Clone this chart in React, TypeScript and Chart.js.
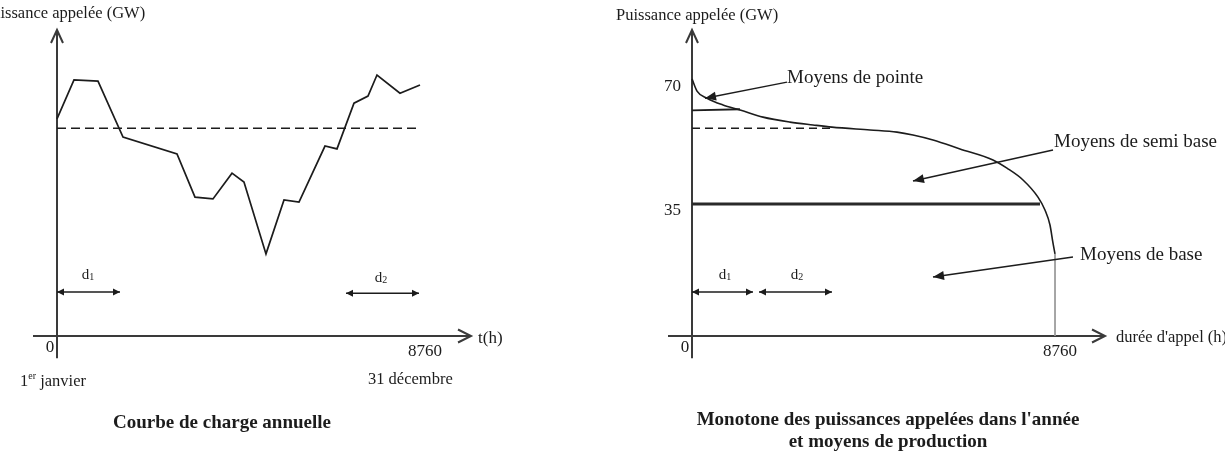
import React, { useEffect, useRef } from 'react';
import { Chart, registerables } from 'chart.js';

Chart.register(...registerables);

const SERIF = '"Liberation Serif", "Times New Roman", "DejaVu Serif", serif';
const INK = '#1c1c1c';
const AXIS = '#3a3a3a';

// ---------- common scale ----------
const HOURS_MAX = 8760;
const xTickValues = [0, 8760];
const yTickValues = [35, 70];

// ---------- left: annual load curve ----------
const loadHours = [0, 410, 989, 1593, 2896, 3330, 3764, 4223, 4512, 5043, 5478, 5840, 6467, 6757, 7167, 7505, 7722, 8277, 8760];
const loadGW = [60.8, 71.7, 71.4, 55.7, 51.0, 38.9, 38.4, 45.6, 43.1, 23.0, 38.1, 37.5, 53.2, 52.4, 65.2, 67.2, 73.1, 68.0, 70.3];
const meanLoadGW = 58.2;
const leftSpanStart = [0, 6974];
const leftSpanEnd = [1520, 8736];
const leftSpanLevel = [12.3, 12.0];
const spanNames = ['1', '2'];

// ---------- right: load duration curve ----------
const monoHours = [0, 121, 362, 748, 1158, 1713, 2365, 2920, 3378, 4296, 4947, 5333, 5816, 6467, 7263, 7601, 7988, 8349, 8518, 8639, 8712, 8760];
const monoGW = [72.0, 68.6, 66.6, 64.7, 63.3, 61.3, 59.9, 59.1, 58.5, 57.7, 57.1, 56.3, 54.9, 52.4, 49.3, 47.0, 43.7, 38.9, 35.3, 31.1, 26.0, 23.0];
const peakHours = [0, 1158];
const peakGW = [63.2, 63.5];
const semiBaseHours = [0, 3378];
const semiBaseGW = 58.2;
const baseHours = [0, 8398];
const baseGW = 37.0;
const rightSpanStart = [0, 1617];
const rightSpanEnd = [1472, 3378];
const rightSpanLevel = [12.3, 12.3];

const font = (size: number, bold = false) => `${bold ? 'bold ' : ''}${size}px ${SERIF}`;

type Txt = { t: string; x: number; y: number; align: CanvasTextAlign; size: number; bold?: boolean };
type Arr = { x1: number; y1: number; x2: number; y2: number };
type Cfg = {
  axisX: [number, number];
  axisY: [number, number];
  texts: Txt[];
  arrows: Arr[];
  spans: { s: number[]; e: number[]; lvl: number[]; labelX: number[]; labelY: number[] };
  tickLabels: boolean;
  janvier?: { x: number; y: number };
};

function head(ctx: CanvasRenderingContext2D, x1: number, y1: number, x2: number, y2: number, len: number, half: number) {
  const a = Math.atan2(y2 - y1, x2 - x1);
  const c = Math.cos(a), s = Math.sin(a);
  ctx.beginPath();
  ctx.moveTo(x2, y2);
  ctx.lineTo(x2 - len * c + half * s, y2 - len * s - half * c);
  ctx.lineTo(x2 - len * c - half * s, y2 - len * s + half * c);
  ctx.closePath();
  ctx.fill();
}

function makePlugin(cfg: Cfg) {
  return {
    id: 'diagram',
    beforeDatasetsDraw(chart: any) {
      const ctx: CanvasRenderingContext2D = chart.ctx;
      const xs = chart.scales.x, ys = chart.scales.y;
      const ox = xs.getPixelForValue(0), oy = ys.getPixelForValue(0);
      ctx.save();
      ctx.strokeStyle = AXIS;
      ctx.lineWidth = 2;
      // x axis
      const xa = xs.getPixelForValue(cfg.axisX[0]);
      const xb = xs.getPixelForValue(cfg.axisX[1]);
      ctx.beginPath();
      ctx.moveTo(xa, oy);
      ctx.lineTo(xb, oy);
      ctx.moveTo(xb - 13, oy - 6.5);
      ctx.lineTo(xb, oy);
      ctx.lineTo(xb - 13, oy + 6.5);
      ctx.stroke();
      // y axis
      const ya = ys.getPixelForValue(cfg.axisY[0]);
      const yb = ys.getPixelForValue(cfg.axisY[1]);
      ctx.beginPath();
      ctx.moveTo(ox, ya);
      ctx.lineTo(ox, yb);
      ctx.moveTo(ox - 6, yb + 13);
      ctx.lineTo(ox, yb);
      ctx.lineTo(ox + 6, yb + 13);
      ctx.stroke();
      ctx.restore();
    },
    afterDatasetsDraw(chart: any) {
      const ctx: CanvasRenderingContext2D = chart.ctx;
      const xs = chart.scales.x, ys = chart.scales.y;
      const ox = xs.getPixelForValue(0), oy = ys.getPixelForValue(0);
      ctx.save();
      ctx.fillStyle = INK;
      ctx.strokeStyle = INK;
      ctx.textBaseline = 'middle';
      // tick labels
      xTickValues.forEach((v) => {
        ctx.font = font(17);
        ctx.textAlign = 'center';
        const px = v === 0 ? ox - 7 : xs.getPixelForValue(v) + 5;
        ctx.fillText(String(v), px, oy + (v === 0 ? 12 : 16));
      });
      if (cfg.tickLabels) {
        yTickValues.forEach((v) => {
          ctx.font = font(17);
          ctx.textAlign = 'right';
          ctx.fillText(String(v), ox - 11, ys.getPixelForValue(v));
        });
      }
      // texts
      cfg.texts.forEach((t) => {
        ctx.font = font(t.size, t.bold);
        ctx.textAlign = t.align;
        ctx.fillText(t.t, xs.getPixelForValue(t.x), ys.getPixelForValue(t.y));
      });
      if (cfg.janvier) {
        let px = xs.getPixelForValue(cfg.janvier.x);
        const py = ys.getPixelForValue(cfg.janvier.y);
        ctx.textAlign = 'left';
        ctx.font = font(16.5);
        ctx.fillText('1', px, py);
        px += ctx.measureText('1').width;
        ctx.font = font(10);
        ctx.fillText('er', px, py - 6);
        px += ctx.measureText('er').width;
        ctx.font = font(16.5);
        ctx.fillText(' janvier', px, py);
      }
      // callout arrows
      ctx.lineWidth = 1.5;
      cfg.arrows.forEach((a) => {
        const x1 = xs.getPixelForValue(a.x1), y1 = ys.getPixelForValue(a.y1);
        const x2 = xs.getPixelForValue(a.x2), y2 = ys.getPixelForValue(a.y2);
        ctx.beginPath();
        ctx.moveTo(x1, y1);
        ctx.lineTo(x2, y2);
        ctx.stroke();
        head(ctx, x1, y1, x2, y2, 11, 4.5);
      });
      // duration spans d1, d2
      const sp = cfg.spans;
      sp.s.forEach((s, i) => {
        const x1 = xs.getPixelForValue(s), x2 = xs.getPixelForValue(sp.e[i]);
        const y = ys.getPixelForValue(sp.lvl[i]);
        ctx.lineWidth = 1.5;
        ctx.beginPath();
        ctx.moveTo(x1, y);
        ctx.lineTo(x2, y);
        ctx.stroke();
        head(ctx, x2, y, x1, y, 7, 3.5);
        head(ctx, x1, y, x2, y, 7, 3.5);
        const lx = xs.getPixelForValue(sp.labelX[i]), ly = ys.getPixelForValue(sp.labelY[i]);
        ctx.font = font(15);
        ctx.textAlign = 'left';
        const wd = ctx.measureText('d').width;
        ctx.font = font(10);
        const ws = ctx.measureText(spanNames[i]).width;
        const start = lx - (wd + ws) / 2;
        ctx.font = font(15);
        ctx.fillText('d', start, ly);
        ctx.font = font(10);
        ctx.fillText(spanNames[i], start + wd, ly + 2);
      });
      ctx.restore();
    },
  };
}

function pts(xs: number[], ys: number[]) {
  return xs.map((x, i) => ({ x, y: ys[i] }));
}

function baseOptions(padding: any) {
  return {
    responsive: false,
    animation: false as const,
    events: [] as any[],
    layout: { padding },
    plugins: { legend: { display: false }, tooltip: { enabled: false }, title: { display: false } },
    elements: { point: { radius: 0 } },
    scales: {
      x: { type: 'linear' as const, min: 0, max: HOURS_MAX, display: false },
      y: { type: 'linear' as const, min: 0, max: 85.7, display: false },
    },
  };
}

const leftCfg: Cfg = {
  axisX: [-579, 9991],
  axisY: [-6.2, 85.7],
  tickLabels: false,
  texts: [
    { t: 'Puissance appelée (GW)', x: -1786, y: 90.2, align: 'left', size: 16.5 },
    { t: 't(h)', x: 10160, y: -0.6, align: 'left', size: 17 },
    { t: '31 décembre', x: 7505, y: -12.3, align: 'left', size: 16.5 },
    { t: 'Courbe de charge annuelle', x: 3982, y: -24.4, align: 'center', size: 19, bold: true },
  ],
  janvier: { x: -893, y: -12.9 },
  arrows: [],
  spans: { s: leftSpanStart, e: leftSpanEnd, lvl: leftSpanLevel, labelX: [748, 7819], labelY: [17.1, 16.2] },
};

const rightCfg: Cfg = {
  axisX: [-579, 9967],
  axisY: [-6.2, 85.7],
  tickLabels: true,
  texts: [
    { t: 'Puissance appelée (GW)', x: -1834, y: 89.6, align: 'left', size: 16.5 },
    { t: "durée d'appel (h)", x: 10232, y: -0.6, align: 'left', size: 16.5 },
    { t: 'Moyens de pointe', x: 2293, y: 72.2, align: 'left', size: 19 },
    { t: 'Moyens de semi base', x: 8736, y: 54.3, align: 'left', size: 19 },
    { t: 'Moyens de base', x: 9363, y: 22.7, align: 'left', size: 19 },
    { t: "Monotone des puissances appelées dans l'année", x: 4730, y: -23.5, align: 'center', size: 19, bold: true },
    { t: 'et moyens de production', x: 4730, y: -29.6, align: 'center', size: 19, bold: true },
  ],
  arrows: [
    { x1: 2293, y1: 71.1, x2: 314, y2: 66.6 },
    { x1: 8712, y1: 52.1, x2: 5333, y2: 43.4 },
    { x1: 9194, y1: 22.1, x2: 5816, y2: 16.5 },
  ],
  spans: { s: rightSpanStart, e: rightSpanEnd, lvl: rightSpanLevel, labelX: [796, 2534], labelY: [17.1, 17.1] },
};

function LeftChart() {
  const ref = useRef<HTMLCanvasElement>(null);
  useEffect(() => {
    const chart = new Chart(ref.current!, {
      type: 'line',
      data: {
        datasets: [
          { data: pts(loadHours, loadGW), borderColor: INK, borderWidth: 1.7, tension: 0, clip: false as any },
          {
            data: [{ x: 0, y: meanLoadGW }, { x: HOURS_MAX, y: meanLoadGW }],
            borderColor: INK, borderWidth: 1.5, borderDash: [9, 5], clip: false as any,
          },
        ],
      },
      options: baseOptions({ left: 57, right: 180, top: 30, bottom: 119 }) as any,
      plugins: [makePlugin(leftCfg)],
    });
    return () => chart.destroy();
  }, []);
  return <canvas ref={ref} width={600} height={455} style={{ position: 'absolute', left: 0, top: 0, width: 600, height: 455 }} />;
}

function RightChart() {
  const ref = useRef<HTMLCanvasElement>(null);
  useEffect(() => {
    const chart = new Chart(ref.current!, {
      type: 'line',
      data: {
        datasets: [
          { data: pts(monoHours, monoGW), borderColor: INK, borderWidth: 1.6, cubicInterpolationMode: 'monotone', clip: false as any },
          { data: pts(peakHours, peakGW), borderColor: INK, borderWidth: 1.8, clip: false as any },
          {
            data: [{ x: semiBaseHours[0], y: semiBaseGW }, { x: semiBaseHours[1], y: semiBaseGW }],
            borderColor: INK, borderWidth: 1.4, borderDash: [8, 5], clip: false as any,
          },
          {
            data: [{ x: baseHours[0], y: baseGW }, { x: baseHours[1], y: baseGW }],
            borderColor: '#2a2a2a', borderWidth: 3, clip: false as any,
          },
          {
            data: [{ x: HOURS_MAX, y: monoGW[monoGW.length - 1] }, { x: HOURS_MAX, y: 0 }],
            borderColor: '#9a9a9a', borderWidth: 1, clip: false as any,
          },
        ],
      },
      options: baseOptions({ left: 92, right: 170, top: 30, bottom: 119 }) as any,
      plugins: [makePlugin(rightCfg)],
    });
    return () => chart.destroy();
  }, []);
  return <canvas ref={ref} width={625} height={455} style={{ position: 'absolute', left: 600, top: 0, width: 625, height: 455 }} />;
}

export default function App() {
  return (
    <div style={{ position: 'absolute', left: 0, top: 0, width: 1225, height: 455, background: '#fff', overflow: 'hidden' }}>
      <LeftChart />
      <RightChart />
    </div>
  );
}
